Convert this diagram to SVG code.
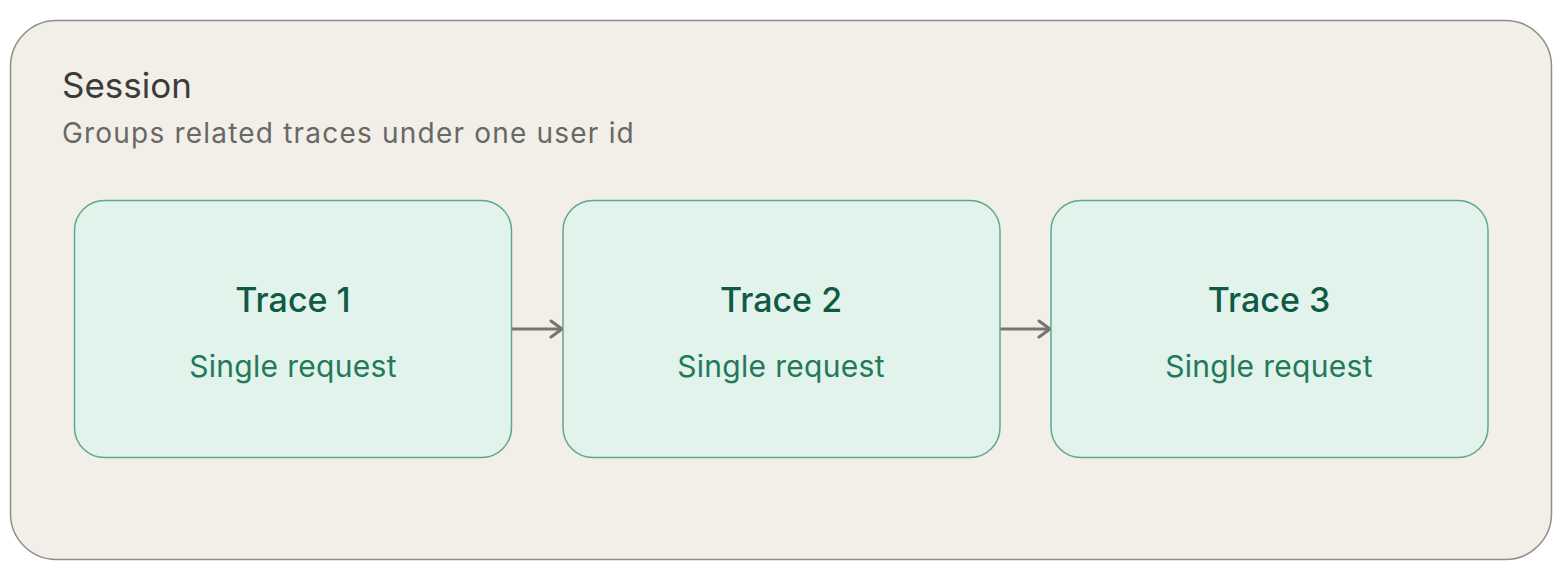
<svg xmlns="http://www.w3.org/2000/svg" width="1562" height="582" viewBox="0 0 1562 582">
<defs>
<style>
.trace rect{fill:#e2f3ec;stroke:#5fa88d;stroke-width:1.5}
.tt{font-family:Inter,"Noto Sans",sans-serif;font-size:34px;font-weight:500;fill:#0f5a45;text-anchor:middle}
.ts{font-family:Inter,"Noto Sans",sans-serif;font-size:30px;fill:#23795b;text-anchor:middle;letter-spacing:0.3px}
.conn{stroke:#77746f;stroke-width:3;fill:none}
</style>
<marker id="arr" markerWidth="16" markerHeight="20" refX="13" refY="10" orient="auto" markerUnits="userSpaceOnUse">
<path d="M2,2 L13,10 L2,18" fill="none" stroke="#77746f" stroke-width="3" stroke-linecap="round" stroke-linejoin="round"/>
</marker>
</defs>
<rect width="1562" height="582" fill="#ffffff"/>
<g id="session">
<rect x="10.5" y="20.5" width="1541" height="539" rx="46" fill="#f2efe9" stroke="#8f8e89" stroke-width="1.5"/>
<text x="62" y="98" font-family="Inter,'Noto Sans',sans-serif" font-size="35" font-weight="400" fill="#3b3b38">Session</text>
<text x="62" y="143" font-family="Inter,'Noto Sans',sans-serif" font-size="28" letter-spacing="1.2" fill="#696864">Groups related traces under one user id</text>
</g>
<g id="connectors">
<line class="conn" x1="512" y1="329" x2="562" y2="329" marker-end="url(#arr)"/>
<line class="conn" x1="1000" y1="329" x2="1050" y2="329" marker-end="url(#arr)"/>
</g>
<g id="trace1" class="trace">
<rect x="74.5" y="200.5" width="437" height="257" rx="30"/>
<text class="tt" x="293" y="312">Trace 1</text>
<text class="ts" x="293" y="377">Single request</text>
</g>
<g id="trace2" class="trace">
<rect x="563" y="200.5" width="437" height="257" rx="30"/>
<text class="tt" x="781" y="312">Trace 2</text>
<text class="ts" x="781" y="377">Single request</text>
</g>
<g id="trace3" class="trace">
<rect x="1051" y="200.5" width="437" height="257" rx="30"/>
<text class="tt" x="1269" y="312">Trace 3</text>
<text class="ts" x="1269" y="377">Single request</text>
</g>
</svg>
